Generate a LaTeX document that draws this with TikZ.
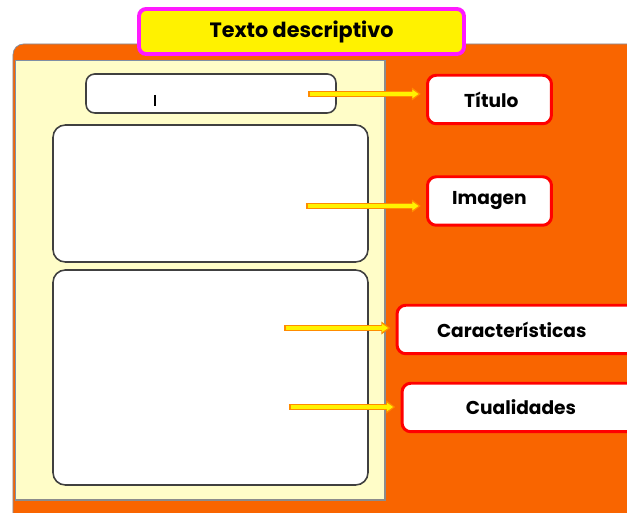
\documentclass[tikz,border=0pt]{standalone}
\usepackage{fontspec}
\setmainfont{Poppins}
\usetikzlibrary{arrows.meta, positioning}

\definecolor{fondo}{HTML}{F96500}
\definecolor{crema}{HTML}{FFFDC8}
\definecolor{marco}{HTML}{7F8FA6}
\definecolor{rosa}{HTML}{FF1AFF}

\begin{document}
\begin{tikzpicture}[x=0.02cm, y=-0.02cm,
    caja/.style={draw=black!75, line width=0.9pt, fill=white, rounded corners=7pt},
    etiqueta/.style={draw=red, line width=1.7pt, fill=white, rounded corners=5pt,
        minimum height=0.97cm, font=\bfseries\fontsize{10.6}{13}\selectfont},
    flecha/.style={line width=3.2pt, draw=orange!90!yellow, -{Triangle[length=5pt, width=7pt]}},
    flechain/.style={line width=1.8pt, draw=yellow, -{Triangle[length=3.6pt, width=4.6pt]}}]
    \useasboundingbox (0,0) rectangle (627,513);

    % fondo naranja y hoja
    \draw[marco, fill=fondo, rounded corners=6pt] (13,44) rectangle (660,540);
    \draw[marco, fill=crema] (15,60) rectangle (385,500);
    \draw[black!45, line width=1pt] (385,61) -- (385,500) -- (16,500);

    % titulo
    \node[draw=rosa, line width=2.2pt, fill=yellow, rounded corners=4pt,
        minimum width=6.5cm, minimum height=0.9cm,
        font=\bfseries\fontsize{11.8}{14}\selectfont] (titulo) at (301.5,31.5) {Texto descriptivo};

    % cajas de la hoja
    \draw[caja, rounded corners=5pt] (86,74) rectangle (336,113);
    \draw[black, line width=0.6pt] (155,95) -- (155,106);
    \draw[caja] (53,125) rectangle (368,262);
    \draw[caja] (53,270) rectangle (368,485);

    % etiquetas
    \node[etiqueta, minimum width=2.48cm] (tit) at (489.5,99.5) {\hspace{2pt}Título};
    \node[etiqueta, minimum width=2.48cm] (ima) at (489.5,201) {Imagen};
    \node[etiqueta, minimum width=4.86cm, text width=3.26cm, align=left] (car) at (518.5,329.5) {Características};
    \node[etiqueta, minimum width=4.76cm] (cua) at (521,407.5) {Cualidades};

    \coordinate (a1) at (308,94);
    \coordinate (a2) at (306,206);
    \coordinate (a3) at (284,328);
    \coordinate (a4) at (289,407);

    % flechas
    \foreach \i/\j in {a1/tit, a2/ima, a3/car, a4/cua} {
        \draw[flecha] (\i) -- ([xshift=-3pt]\j.west |- \i);
        \draw[flechain] ([xshift=1pt]\i) -- ([xshift=-4.2pt]\j.west |- \i);
    }
\end{tikzpicture}
\end{document}
